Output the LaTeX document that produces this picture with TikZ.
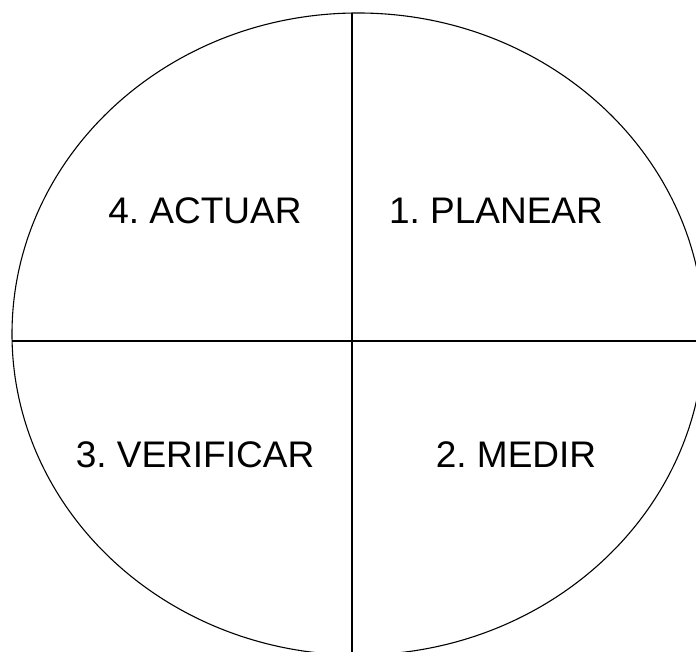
\documentclass[tikz,border=0pt]{standalone}
\usepackage{fontspec}
\setmainfont{Liberation Sans}
\frenchspacing
\begin{document}
\begin{tikzpicture}[x=1pt,y=1pt,
  outline/.style={draw=black,line width=1.1pt},
  lab/.style={anchor=base,inner sep=0pt,font=\fontsize{37}{44}\selectfont}]
\useasboundingbox (0,0) rectangle (696,652);
\begin{scope}
\clip (0,0) rectangle (696,652);
\coordinate (c) at (358,318);
\draw[outline] (c) ellipse [x radius=346, y radius=321];
\begin{scope}
\clip (c) ellipse [x radius=346, y radius=321];
\coordinate (hl) at (0,311);
\coordinate (hr) at (710,311);
\coordinate (vt) at (352,660);
\coordinate (vb) at (352,-20);
\draw[outline] (hl) -- (hr);
\draw[outline] (vt) -- (vb);
\end{scope}
\end{scope}
\node[lab] (act) at (205,428) {\frenchspacing 4. ACTUAR};
\node[lab] (pla) at (496,428) {\frenchspacing 1. PLANEAR};
\node[lab] (ver) at (195,184) {\frenchspacing 3. VERIFICAR};
\node[lab] (med) at (516,184) {\frenchspacing 2. MEDIR};
\end{tikzpicture}
\end{document}
